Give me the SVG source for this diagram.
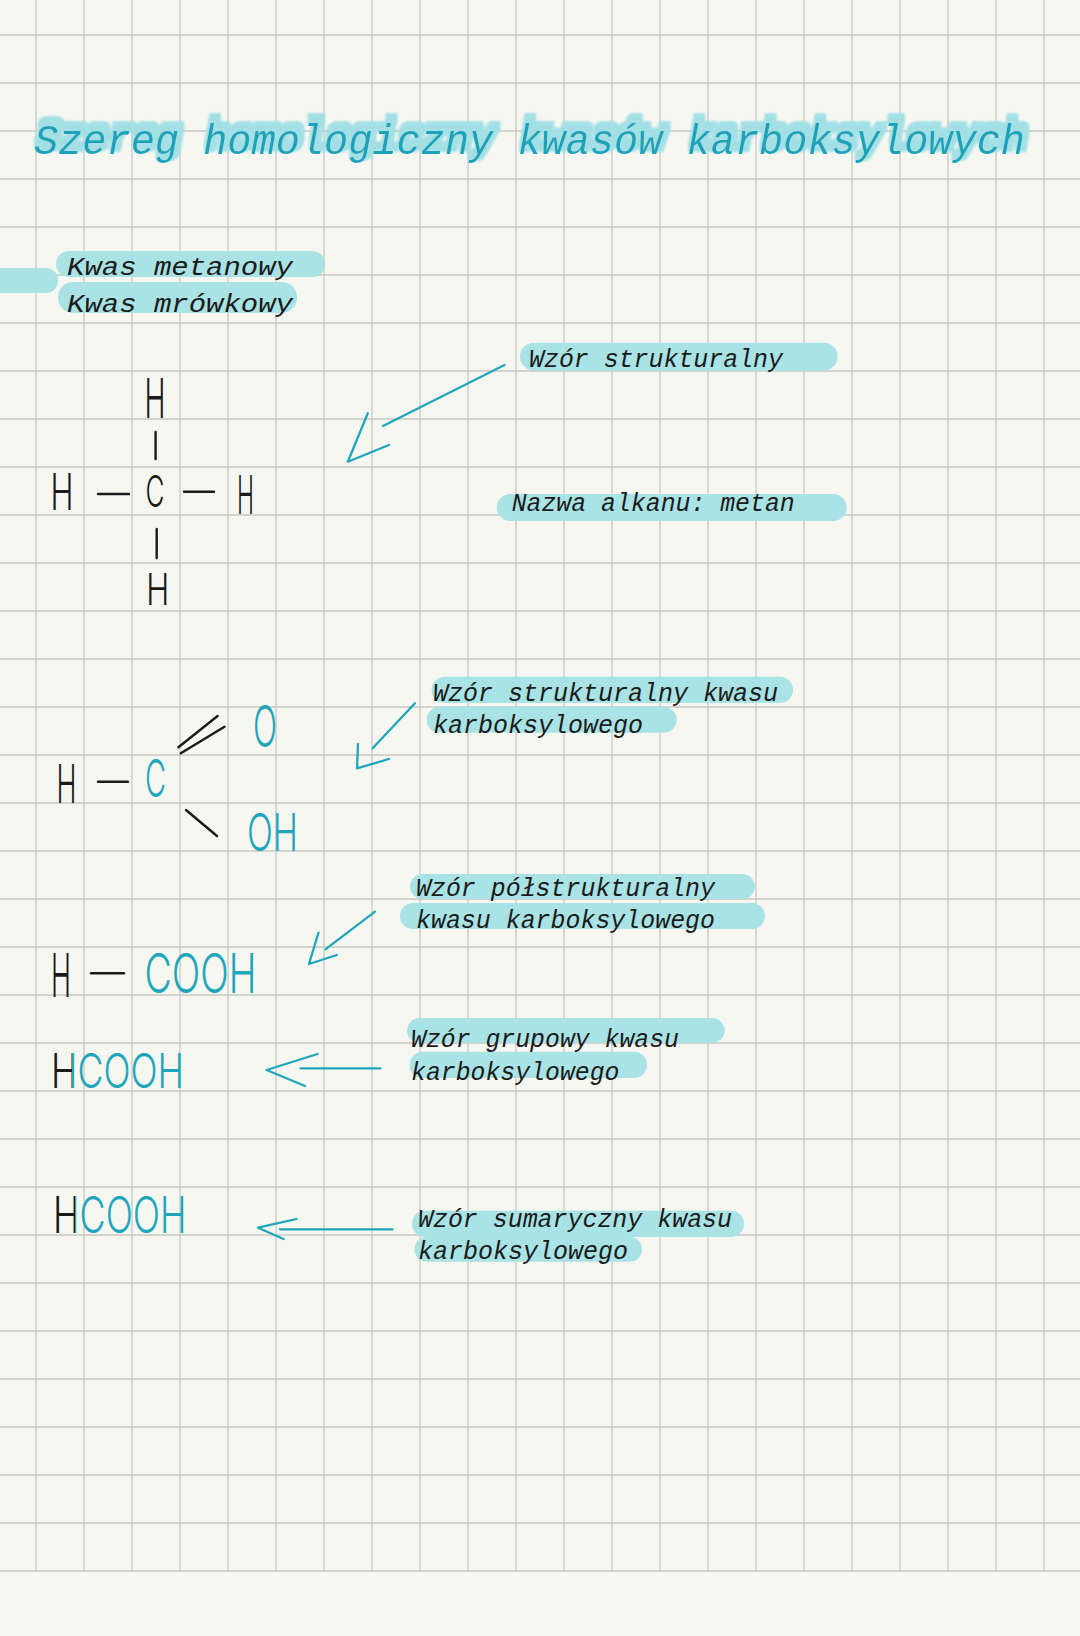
<svg xmlns="http://www.w3.org/2000/svg" width="1080" height="1636" viewBox="0 0 1080 1636">
<defs>
<style>
.grid line{stroke:#c8c8c3;stroke-width:1.3}
.pill{fill:#a9e3e6}
.lbl{font-family:"Liberation Mono","DejaVu Sans Mono",monospace;font-style:italic;font-size:25px;fill:#1b1b1b}
.title{font-family:"Liberation Mono","DejaVu Sans Mono",monospace;font-style:italic;font-size:42px;fill:#1fa3b9}
.chem{font-family:Inter,"Noto Sans","DejaVu Sans",sans-serif;font-weight:300;text-anchor:middle}
.blk{fill:#1a1a1a}
.tl{fill:#1fa6bb}
.bond{stroke:#1a1a1a;stroke-width:2.4;stroke-linecap:round;fill:none}
.arr{stroke:#1fa6bb;stroke-width:2.3;stroke-linecap:round;stroke-linejoin:round;fill:none}
</style>
<linearGradient id="hc1" gradientUnits="userSpaceOnUse" x1="0" y1="0" x2="1080" y2="0">
<stop offset="0" stop-color="#1a1a1a"/><stop offset="0.0667" stop-color="#1a1a1a"/><stop offset="0.0667" stop-color="#1fa6bb"/><stop offset="1" stop-color="#1fa6bb"/>
</linearGradient>
<linearGradient id="hc2" gradientUnits="userSpaceOnUse" x1="0" y1="0" x2="1080" y2="0">
<stop offset="0" stop-color="#1a1a1a"/><stop offset="0.0694" stop-color="#1a1a1a"/><stop offset="0.0694" stop-color="#1fa6bb"/><stop offset="1" stop-color="#1fa6bb"/>
</linearGradient>
<filter id="hl" x="-5%" y="-60%" width="110%" height="220%">
<feMorphology in="SourceAlpha" operator="dilate" radius="3.5" result="d"/>
<feOffset in="d" dx="3" dy="-6" result="o"/>
<feGaussianBlur in="o" stdDeviation="1.2" result="b"/>
<feFlood flood-color="#a3e0e5"/>
<feComposite in2="b" operator="in" result="s"/>
<feMerge><feMergeNode in="s"/><feMergeNode in="SourceGraphic"/></feMerge>
</filter>
</defs>
<rect width="1080" height="1636" fill="#f7f7f2"/>
<g class="grid">
<line x1="36" y1="0" x2="36" y2="1572"/><line x1="84" y1="0" x2="84" y2="1572"/><line x1="132" y1="0" x2="132" y2="1572"/><line x1="180" y1="0" x2="180" y2="1572"/><line x1="228" y1="0" x2="228" y2="1572"/><line x1="276" y1="0" x2="276" y2="1572"/><line x1="324" y1="0" x2="324" y2="1572"/><line x1="372" y1="0" x2="372" y2="1572"/><line x1="420" y1="0" x2="420" y2="1572"/><line x1="468" y1="0" x2="468" y2="1572"/><line x1="516" y1="0" x2="516" y2="1572"/><line x1="564" y1="0" x2="564" y2="1572"/><line x1="612" y1="0" x2="612" y2="1572"/><line x1="660" y1="0" x2="660" y2="1572"/><line x1="708" y1="0" x2="708" y2="1572"/><line x1="756" y1="0" x2="756" y2="1572"/><line x1="804" y1="0" x2="804" y2="1572"/><line x1="852" y1="0" x2="852" y2="1572"/><line x1="900" y1="0" x2="900" y2="1572"/><line x1="948" y1="0" x2="948" y2="1572"/><line x1="996" y1="0" x2="996" y2="1572"/><line x1="1044" y1="0" x2="1044" y2="1572"/>
<line x1="0" y1="35" x2="1080" y2="35"/><line x1="0" y1="83" x2="1080" y2="83"/><line x1="0" y1="131" x2="1080" y2="131"/><line x1="0" y1="179" x2="1080" y2="179"/><line x1="0" y1="227" x2="1080" y2="227"/><line x1="0" y1="275" x2="1080" y2="275"/><line x1="0" y1="323" x2="1080" y2="323"/><line x1="0" y1="371" x2="1080" y2="371"/><line x1="0" y1="419" x2="1080" y2="419"/><line x1="0" y1="467" x2="1080" y2="467"/><line x1="0" y1="515" x2="1080" y2="515"/><line x1="0" y1="563" x2="1080" y2="563"/><line x1="0" y1="611" x2="1080" y2="611"/><line x1="0" y1="659" x2="1080" y2="659"/><line x1="0" y1="707" x2="1080" y2="707"/><line x1="0" y1="755" x2="1080" y2="755"/><line x1="0" y1="803" x2="1080" y2="803"/><line x1="0" y1="851" x2="1080" y2="851"/><line x1="0" y1="899" x2="1080" y2="899"/><line x1="0" y1="947" x2="1080" y2="947"/><line x1="0" y1="995" x2="1080" y2="995"/><line x1="0" y1="1043" x2="1080" y2="1043"/><line x1="0" y1="1091" x2="1080" y2="1091"/><line x1="0" y1="1139" x2="1080" y2="1139"/><line x1="0" y1="1187" x2="1080" y2="1187"/><line x1="0" y1="1235" x2="1080" y2="1235"/><line x1="0" y1="1283" x2="1080" y2="1283"/><line x1="0" y1="1331" x2="1080" y2="1331"/><line x1="0" y1="1379" x2="1080" y2="1379"/><line x1="0" y1="1427" x2="1080" y2="1427"/><line x1="0" y1="1475" x2="1080" y2="1475"/><line x1="0" y1="1523" x2="1080" y2="1523"/><line x1="0" y1="1571" x2="1080" y2="1571"/>
</g>

<g id="title">
<text class="title" x="34" y="154" textLength="991" lengthAdjust="spacingAndGlyphs" filter="url(#hl)">Szereg homologiczny kwasów karboksylowych</text>
</g>

<g id="acid-name">
<rect class="pill" x="-20" y="268" width="78" height="25" rx="12"/>
<rect class="pill" x="56" y="251" width="269" height="26" rx="13"/>
<rect class="pill" x="58" y="282" width="239" height="31" rx="15"/>
<text class="lbl" x="67" y="275" font-size="27" textLength="226" lengthAdjust="spacingAndGlyphs">Kwas metanowy</text>
<text class="lbl" x="67" y="312" font-size="27" textLength="226" lengthAdjust="spacingAndGlyphs">Kwas mrówkowy</text>
</g>

<g id="methane">
<text class="chem blk" x="155" y="418" font-size="55" textLength="21" lengthAdjust="spacingAndGlyphs">H</text>
<line class="bond" x1="155.6" y1="432" x2="155.6" y2="459"/>
<text class="chem blk" x="155" y="507" font-size="44" textLength="19" lengthAdjust="spacingAndGlyphs">C</text>
<text class="chem blk" x="62" y="510" font-size="50" textLength="23" lengthAdjust="spacingAndGlyphs">H</text>
<line class="bond" x1="98" y1="494" x2="129" y2="494"/>
<line class="bond" x1="184" y1="491.7" x2="214" y2="491.7"/>
<text class="chem blk" x="245.5" y="514" font-size="54" textLength="17" lengthAdjust="spacingAndGlyphs">H</text>
<line class="bond" x1="156.7" y1="529" x2="156.7" y2="558"/>
<text class="chem blk" x="157.7" y="605" font-size="44" textLength="23" lengthAdjust="spacingAndGlyphs">H</text>
</g>

<g id="label-structural">
<rect class="pill" x="520" y="342.7" width="317.7" height="28" rx="14"/>
<text class="lbl" x="529" y="366.7" textLength="254" lengthAdjust="spacingAndGlyphs">Wzór strukturalny</text>
</g>

<g id="label-alkane">
<rect class="pill" x="496.7" y="494" width="350" height="27" rx="13.5"/>
<text class="lbl" x="511.7" y="510.7" textLength="283" lengthAdjust="spacingAndGlyphs">Nazwa alkanu: metan</text>
</g>

<g id="acid-structural">
<text class="chem blk" x="66.6" y="803" font-size="54" textLength="20" lengthAdjust="spacingAndGlyphs">H</text>
<line class="bond" x1="98" y1="781.7" x2="128" y2="781.7"/>
<text class="chem tl" x="155.5" y="797" font-size="52" textLength="21" lengthAdjust="spacingAndGlyphs">C</text>
<line class="bond" x1="178.4" y1="747.3" x2="217.6" y2="716"/>
<line class="bond" x1="180.8" y1="753.3" x2="224.5" y2="726.7"/>
<text class="chem tl" x="265" y="747" font-size="58" textLength="24" lengthAdjust="spacingAndGlyphs">O</text>
<line class="bond" x1="186" y1="810" x2="217" y2="836"/>
<text class="chem tl" x="272.5" y="851" font-size="52" textLength="51" lengthAdjust="spacingAndGlyphs">OH</text>
</g>

<g id="label-acid-structural">
<rect class="pill" x="431.7" y="676.7" width="361.3" height="26.3" rx="13"/>
<rect class="pill" x="426.7" y="706.7" width="250" height="26" rx="13"/>
<text class="lbl" x="433" y="700.7" textLength="345" lengthAdjust="spacingAndGlyphs">Wzór strukturalny kwasu</text>
<text class="lbl" x="433" y="732.7" textLength="210" lengthAdjust="spacingAndGlyphs">karboksylowego</text>
</g>

<g id="acid-semistructural">
<text class="chem blk" x="61" y="996.7" font-size="60" textLength="20" lengthAdjust="spacingAndGlyphs">H</text>
<line class="bond" x1="91" y1="973.3" x2="124" y2="973.3"/>
<text class="chem tl" x="200.5" y="993" font-size="55" textLength="112" lengthAdjust="spacingAndGlyphs">COOH</text>
</g>

<g id="label-semistructural">
<rect class="pill" x="410" y="874" width="345" height="25" rx="12.5"/>
<rect class="pill" x="400" y="903" width="365" height="26" rx="13"/>
<text class="lbl" x="416" y="896" textLength="299" lengthAdjust="spacingAndGlyphs">Wzór półstrukturalny</text>
<text class="lbl" x="416" y="928.3" textLength="299" lengthAdjust="spacingAndGlyphs">kwasu karboksylowego</text>
</g>

<g id="acid-group-formula">
<text class="chem" x="117.5" y="1088" font-size="48" textLength="133" lengthAdjust="spacingAndGlyphs" fill="url(#hc1)">HCOOH</text>
</g>

<g id="label-group">
<rect class="pill" x="407" y="1018" width="317.7" height="25" rx="12.5"/>
<rect class="pill" x="409.6" y="1051.7" width="237.4" height="26.3" rx="13"/>
<text class="lbl" x="411" y="1046.7" textLength="268" lengthAdjust="spacingAndGlyphs">Wzór grupowy kwasu</text>
<text class="lbl" x="411" y="1080" textLength="208.5" lengthAdjust="spacingAndGlyphs">karboksylowego</text>
</g>

<g id="acid-molecular-formula">
<text class="chem" x="119.8" y="1233" font-size="50" textLength="133.6" lengthAdjust="spacingAndGlyphs" fill="url(#hc2)">HCOOH</text>
</g>

<g id="label-molecular">
<rect class="pill" x="412" y="1210.7" width="332" height="26.3" rx="13"/>
<rect class="pill" x="414.5" y="1237" width="227.5" height="24.7" rx="12"/>
<text class="lbl" x="418" y="1226.7" textLength="314" lengthAdjust="spacingAndGlyphs">Wzór sumaryczny kwasu</text>
<text class="lbl" x="418" y="1259.3" textLength="210" lengthAdjust="spacingAndGlyphs">karboksylowego</text>
</g>

<g id="connectors">
<line class="arr" x1="504.5" y1="365" x2="383" y2="426"/>
<polyline class="arr" points="367.8,413.3 347.8,461.7 389,445"/>
<line class="arr" x1="415" y1="703.3" x2="372.6" y2="748.3"/>
<polyline class="arr" points="358,744 357,768.3 389,759"/>
<line class="arr" x1="375" y1="911.7" x2="325.4" y2="949.3"/>
<polyline class="arr" points="318.5,932.7 309,964 336.8,955"/>
<line class="arr" x1="300.5" y1="1068.3" x2="380.5" y2="1068.3"/>
<polyline class="arr" points="317.5,1054 266.6,1070 305,1086"/>
<line class="arr" x1="280" y1="1229.3" x2="392.6" y2="1229.3"/>
<polyline class="arr" points="296.6,1219 258,1227.7 283.6,1239"/>
</g>
</svg>
